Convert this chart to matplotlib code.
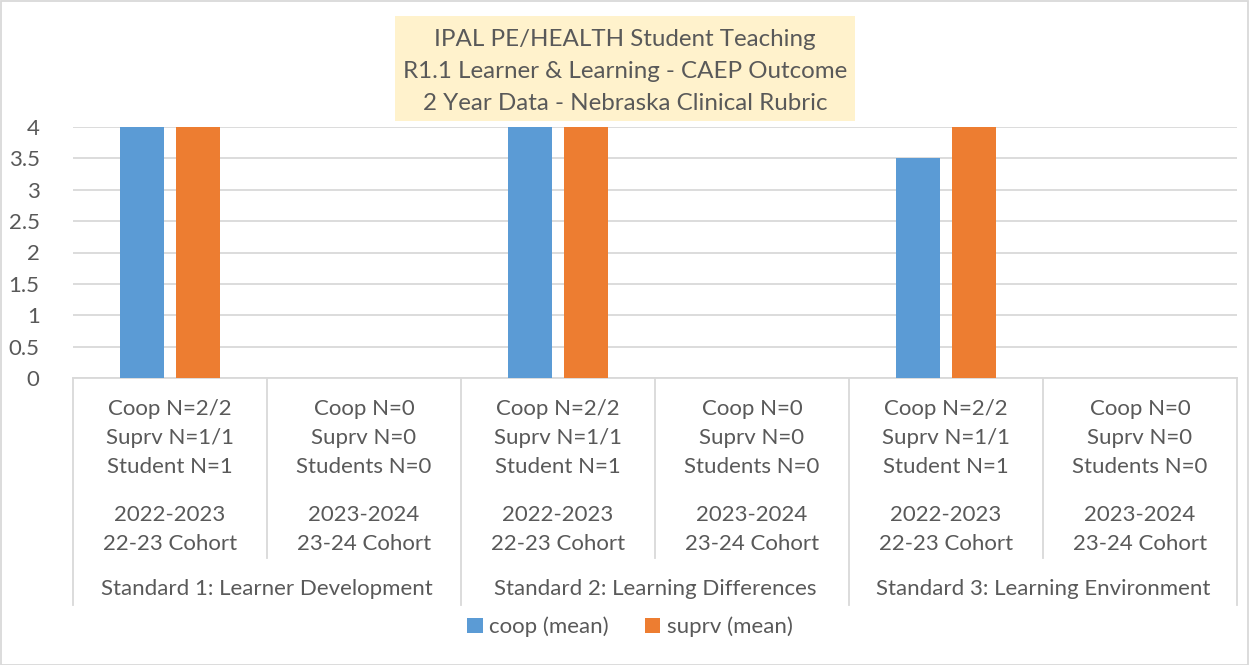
import numpy as np
import matplotlib.pyplot as plt
import matplotlib.transforms as mtransforms
from matplotlib.patches import Rectangle

plt.rcParams['font.family'] = ['Lato', 'DejaVu Sans']

# data
sub_labels = [
    ["Coop N=2/2", "Suprv N=1/1", "Student N=1", "2022-2023", "22-23 Cohort"],
    ["Coop N=0", "Suprv N=0", "Students N=0", "2023-2024", "23-24 Cohort"],
    ["Coop N=2/2", "Suprv N=1/1", "Student N=1", "2022-2023", "22-23 Cohort"],
    ["Coop N=0", "Suprv N=0", "Students N=0", "2023-2024", "23-24 Cohort"],
    ["Coop N=2/2", "Suprv N=1/1", "Student N=1", "2022-2023", "22-23 Cohort"],
    ["Coop N=0", "Suprv N=0", "Students N=0", "2023-2024", "23-24 Cohort"],
]
group_labels = ["Standard 1: Learner Development",
                "Standard 2: Learning Differences",
                "Standard 3: Learning Environment"]
coop = [4, 0, 4, 0, 3.5, 0]
suprv = [4, 0, 4, 0, 4, 0]
title_lines = ["IPAL PE/HEALTH Student Teaching",
               "R1.1 Learner & Learning - CAEP Outcome",
               "2 Year Data - Nebraska Clinical Rubric"]

W, H = 1249, 665
txt = '#595959'
grid = '#D9D9D9'
blue = '#5B9BD5'
orange = '#ED7D31'
fs = 16

fig = plt.figure(figsize=(W / 100, H / 100), dpi=100)
fig.patch.set_facecolor('white')

# axes in pixel coords
x0, x1, ytop, ybot = 73, 1237, 127, 378
ax = fig.add_axes([x0 / W, 1 - ybot / H, (x1 - x0) / W, (ybot - ytop) / H])

x = np.arange(len(coop))
w = 0.227
off = 0.142
ax.bar(x - off, coop, w, color=blue, zorder=3)
ax.bar(x + off, suprv, w, color=orange, zorder=3)

ax.set_xlim(-0.5, len(coop) - 0.5)
ax.set_ylim(0, 4)
ax.set_yticks(np.arange(0, 4.01, 0.5))
ax.set_yticklabels([f"{v:g}" for v in np.arange(0, 4.01, 0.5)])
ax.tick_params(axis='y', length=0, pad=24, labelsize=fs, labelcolor=txt)
ax.set_xticks([])
ax.grid(axis='y', color=grid, linewidth=1.3, zorder=0)
for s in ['left', 'right', 'top']:
    ax.spines[s].set_visible(False)
ax.spines['bottom'].set_color(grid)
ax.spines['bottom'].set_linewidth(1.3)

# category labels below the axis
trans = mtransforms.blended_transform_factory(ax.transData, fig.transFigure)
row_y = [409, 438, 467, 515, 544]
for i, lines in enumerate(sub_labels):
    for line, py in zip(lines, row_y):
        fig.text(i, 1 - py / H, line, transform=trans, ha='center', va='center',
                 fontsize=fs, color=txt)
for g, lab in enumerate(group_labels):
    fig.text(2 * g + 0.5, 1 - 589 / H, lab, transform=trans, ha='center',
             va='center', fontsize=fs, color=txt)

# separator lines
for b in np.arange(-0.5, len(coop), 1):
    bottom = 605 if (b + 0.5) % 2 == 0 else 558
    ax.plot([b, b], [1 - ybot / H, 1 - bottom / H], transform=trans,
            color=grid, linewidth=1.3, clip_on=False)

# title box
fig.patches.append(Rectangle((395 / W, 1 - 121 / H), 460 / W, 105 / H,
                             transform=fig.transFigure, facecolor='#FFF2CC',
                             edgecolor='none', zorder=5))
for line, py in zip(title_lines, [39, 72, 104]):
    fig.text(625 / W, 1 - py / H, line, ha='center', va='center',
             fontsize=17.4, color=txt, zorder=6)

# legend
leg = fig.legend(handles=ax.patches[:1] + ax.patches[len(coop):len(coop) + 1],
                 labels=["coop (mean)", "suprv (mean)"],
                 loc='center', bbox_to_anchor=(630 / W, 1 - 627 / H),
                 ncol=2, frameon=False, fontsize=fs, labelcolor=txt,
                 handlelength=0.7, handleheight=0.7, handletextpad=0.3,
                 columnspacing=1.6)

# chart border
fig.patches.append(Rectangle((0.5 / W, 0.5 / H), (W - 1.5) / W, (H - 1.5) / H,
                             transform=fig.transFigure, facecolor='none',
                             edgecolor=grid, linewidth=1.3))

fig.savefig('out.png', dpi=100)
